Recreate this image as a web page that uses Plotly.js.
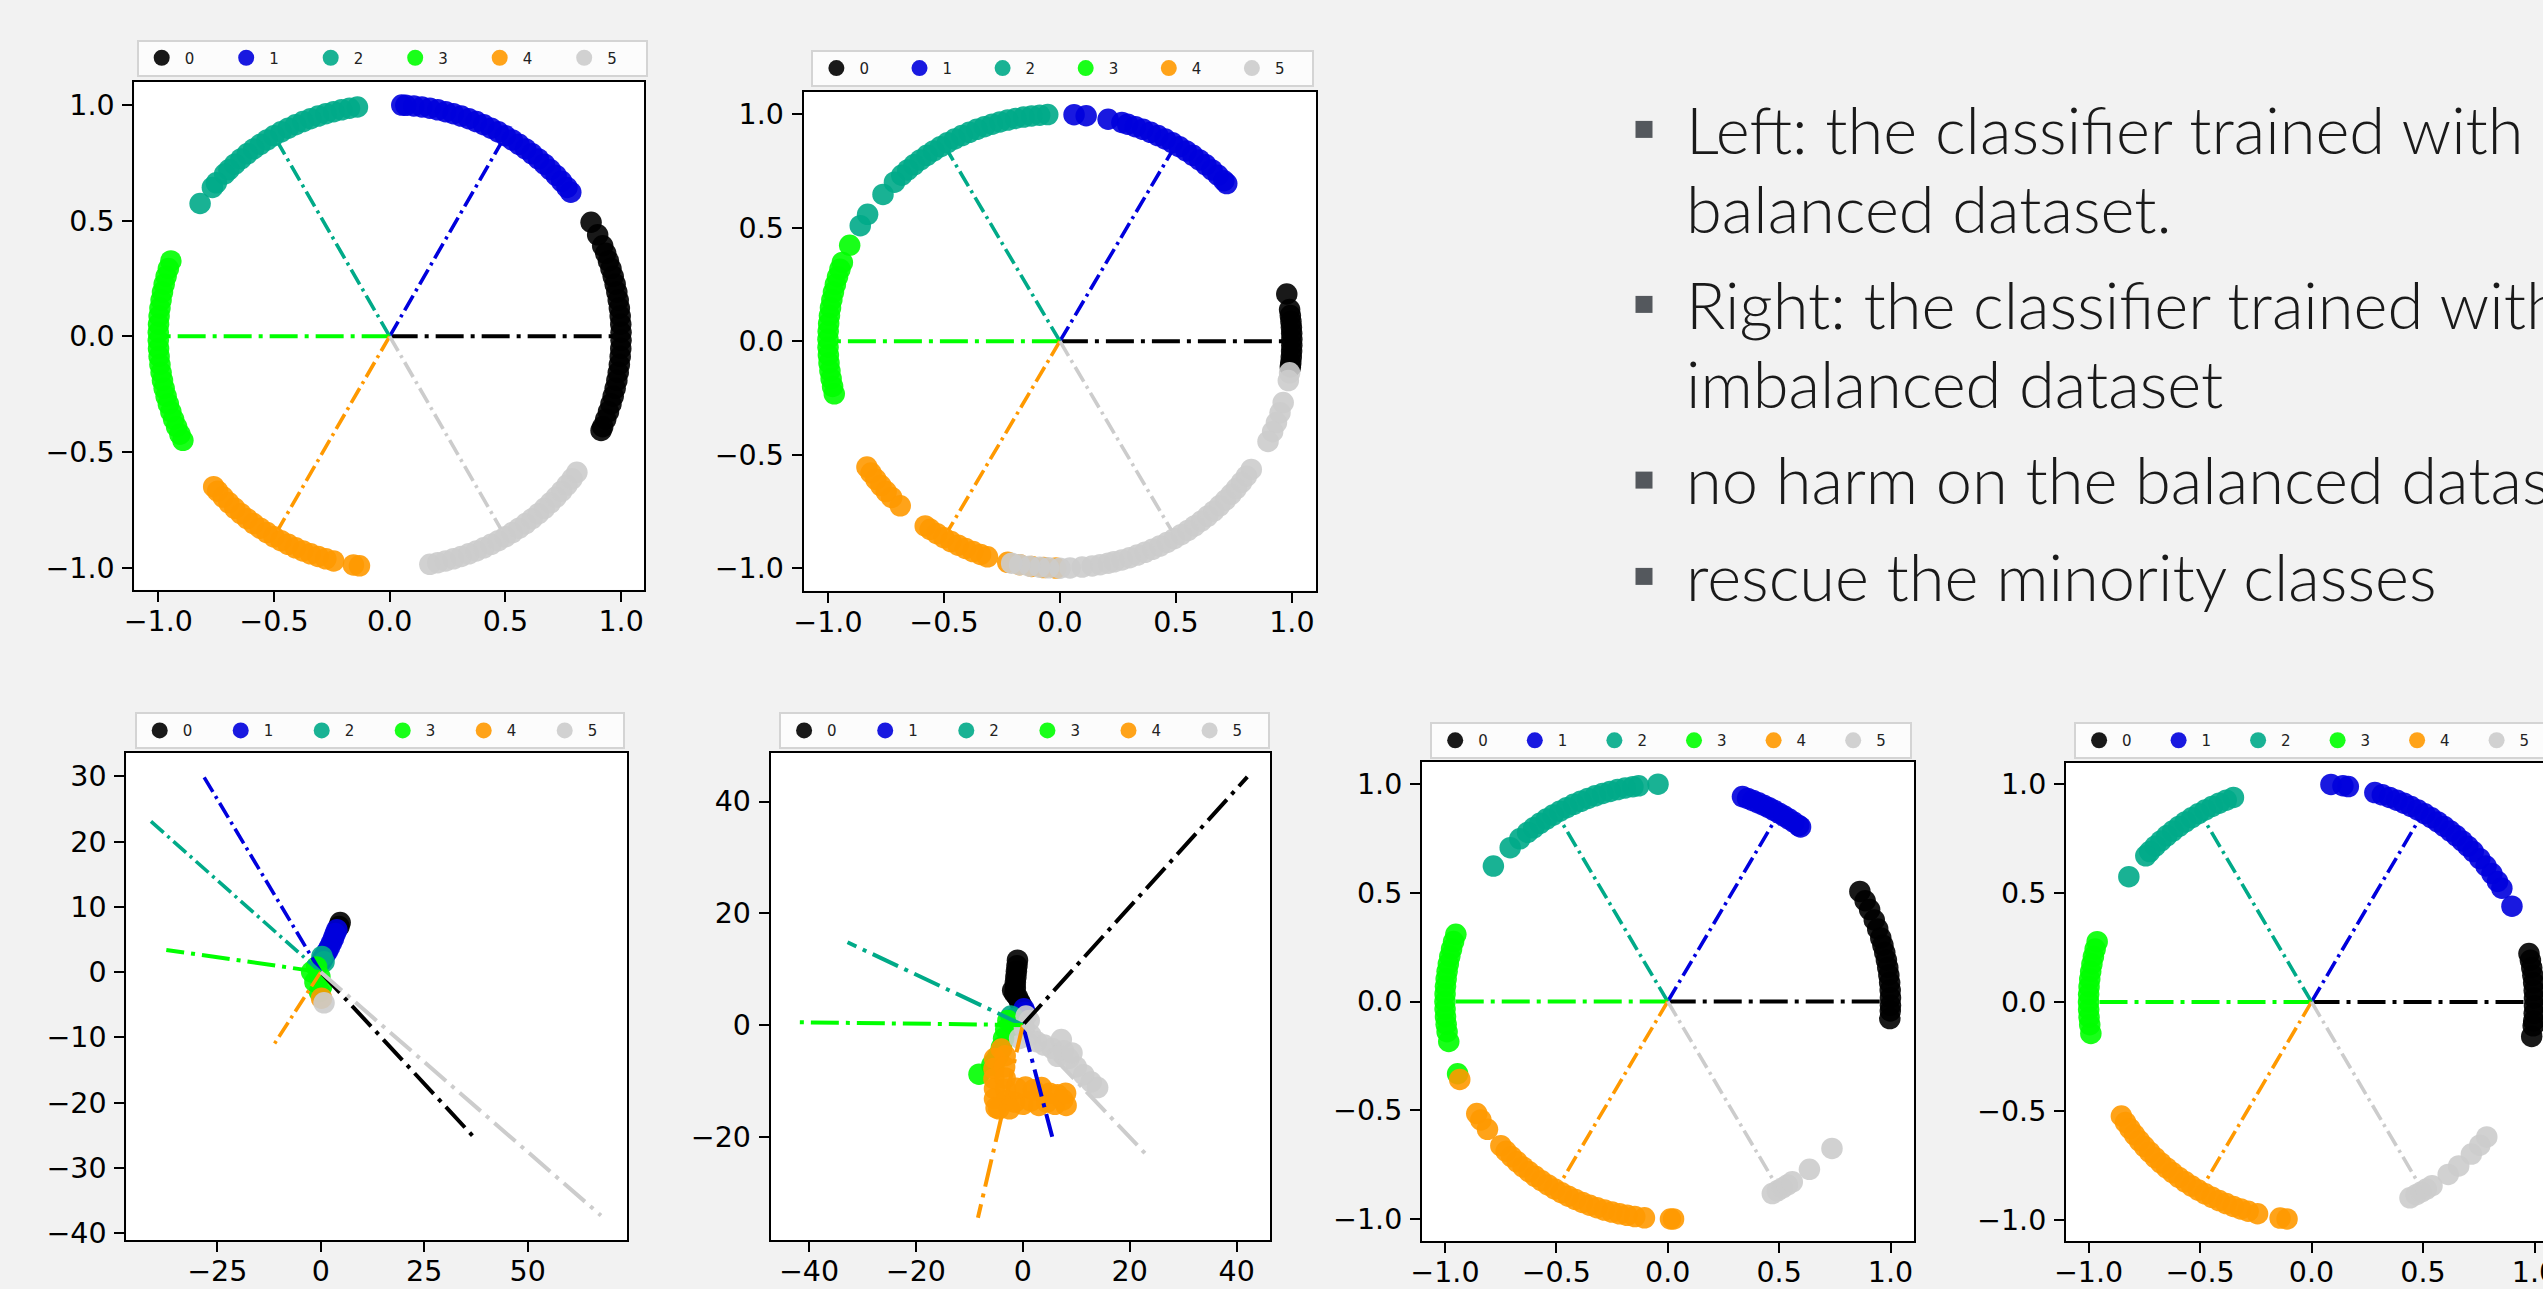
<!DOCTYPE html>
<html>
<head>
<meta charset="utf-8">
<script src="https://cdn.plot.ly/plotly-3.0.1.min.js"></script>
<style>
html,body{margin:0;padding:0;background:#f2f2f2;overflow:hidden;}
#chart{width:2543px;height:1289px;}
</style>
</head>
<body>
<div id="chart"></div>
<script>
// ================= DATA =================
const CLASS_NAMES = ['0', '1', '2', '3', '4', '5'];

// Panel 1 (top-left, balanced): angle (degrees) of each normalised feature on the unit circle
const P1_A0 = [29.5, 26, 23, 21, 19, 17, 15, 13, 11, 9, 7, 5, 3, 1, -1, -3, -5, -7, -9, -11, -13, -15, -17, -19, -21, -23, -24];
const P1_A1 = [87, 86, 84, 82, 80, 78, 76, 74, 72, 70, 68, 66, 64, 62, 60, 58, 56, 54, 52, 50, 48, 46, 44, 42, 40, 38.5];
const P1_A2 = [98, 100, 102, 104, 106, 108, 110, 112, 114, 116, 118, 120, 122, 124, 126, 128, 130, 132, 134, 135.5, 138.5, 140, 145];
const P1_A3 = [161, 163, 165, 167, 169, 171, 173, 175, 177, 179, 181, 183, 185, 187, 189, 191, 193, 195, 197, 199, 201, 203, 205, 206.7];
const P1_A4 = [220.5, 222, 224, 226, 228, 230, 232, 234, 236, 238, 240, 242, 244, 246, 248, 250, 252, 254, 256, 261, 262.5];
const P1_A5 = [280, 282, 284, 286, 288, 290, 292, 294, 296, 298, 300, 302, 304, 306, 308, 310, 312, 314, 316, 318, 320, 322, 324];

// Panel 2 (top-middle, imbalanced)
const P2_A0 = [12, 8, 6.5, 5, 3.5, 2, 0.5, -1, -2.5, -4, -5.5, -6.5];
const P2_A1 = [86.5, 83.5, 78, 74.5, 73, 71, 69, 67, 65, 63, 61, 59, 57, 55, 53, 51, 49, 47, 45, 44];
const P2_A2 = [93, 95, 97, 99, 101, 103, 105, 107, 109, 111, 113, 115, 117, 119, 121, 123, 125, 127, 129, 131, 133, 135.5, 139.7, 146, 149.4];
const P2_A3 = [155, 159.7, 161.5, 163.5, 165.5, 167.5, 169.5, 171.5, 173.5, 175.5, 177.5, 179.5, 181.5, 183.5, 185.5, 187.5, 189.5, 191.5, 193.4];
const P2_A4 = [213.7, 215.5, 217.5, 219.5, 221.5, 223.5, 226.5, 234.5, 236, 238, 240, 242, 244, 246, 248, 250, 251.8, 257, 260, 263, 266, 269];
const P2_A5 = [-8, -10, -15.7, -18.4, -21, -23.5, -26.2, -34.4, -36.5, -38.5, -40.5, -42.5, -44.5, -46.5, -48.5, -50.5, -52.5, -54.5, -56.5, -58.5, -60.5, -62.5, -64.5, -66.5, -68.5, -70.5, -72.5, -74.5, -76.5, -78, -80, -82, -84.5, -87.5, -90, -92.8, -95, -97.5, -100, -102];

// Panel 3 (bottom-left, unnormalised features)
const P3_X0 = [4.7, 4.4];
const P3_Y0 = [7.6, 7.0];
const P3_X1 = [3.9, 3.5, 3.1, 2.6, 2.1, 1.6, 1.1, 0.6, 0.3];
const P3_Y1 = [6.5, 5.9, 5.2, 4.5, 3.8, 3.2, 2.7, 2.2, 1.8];
const P3_X2 = [0.3, 0.8];
const P3_Y2 = [2.4, 1.6];
const P3_X3 = [-1.0, -2.2, -0.2, -1.4, 0.2, -0.3];
const P3_Y3 = [0.8, 0.05, -0.7, -1.5, -2.2, -3.0];
const P3_X4 = [0.2];
const P3_Y4 = [-4.0];
const P3_X5 = [0.8];
const P3_Y5 = [-4.7];

// Panel 4 (bottom, second)
const P4_X0 = [-1.0, -1.1, -1.2, -1.3, -1.4, -1.4, -1.5, -1.9, -1.0, -0.6, -0.3];
const P4_Y0 = [11.6, 10.6, 9.6, 8.6, 7.6, 6.6, 5.6, 6.2, 5.0, 4.2, 3.6];
const P4_X1 = [0.2, 0.4];
const P4_Y1 = [2.9, 2.3];
const P4_X2 = [-2.2, -1.6];
const P4_Y2 = [1.6, 1.2];
const P4_X3 = [-1.8, -2.8, -3.2, -3.6, -4.0, -4.6, -5.2, -5.8, -8.2];
const P4_Y3 = [0.0, 0.8, -0.8, -2.4, -4.0, -5.5, -6.5, -7.2, -8.8];
const P4_X4 = [-4.0, -5.3, -5.4, -5.4, -5.3, -5.3, -5.0, -3.3, -3.4, -3.3, -3.2, -3.0, -1.5, 0.0, 1.5, 3.0, 4.5, 6.0, 7.5, 8.1, -1.2, 0.5, 2.0, 3.5, 5.0, 6.5, 8.0, -4.5, -2.5];
const P4_Y4 = [-4.3, -6.0, -7.8, -9.6, -11.4, -13.2, -14.8, -5.5, -7.5, -9.5, -11.5, -13.5, -13.8, -14.2, -13.6, -14.4, -13.8, -14.2, -13.4, -14.4, -11.3, -11.1, -11.6, -11.2, -12.2, -12.5, -12.2, -15.0, -15.0];
const P4_X5 = [0.6, 0.3, -0.6, 1.5, 2.6, 4.0, 5.5, 7.2, 7.6, 8.6, 10.0, 11.4, 12.8, 14.0, 6.5, 9.2, 1.2];
const P4_Y5 = [1.6, -0.5, -2.4, -1.8, -3.0, -3.6, -4.2, -2.6, -4.6, -6.0, -7.5, -8.9, -10.2, -11.2, -5.6, -5.0, 0.8];

// Panel 5 (bottom, third)
const P5_A0 = [30.4, 27.6, 25, 22, 19.5, 17, 15, 13, 11, 9, 7, 5, 3, 1, -1, -2.5, -4.5];
const P5_A1 = [70.4, 69, 67.5, 66, 64.5, 63, 61.5, 60, 58.5, 57, 55.5, 54, 53.4];
const P5_A2 = [92.5, 97.5, 99, 101, 103, 105, 107, 109, 111, 113, 115, 117, 119, 121, 123, 125, 127, 129, 131.6, 135, 141.5];
const P5_A3 = [162, 164, 166, 168, 170, 172, 174, 176, 178, 180, 182, 184, 186, 188, 190.6, 199.4];
const P5_A4 = [201, 211, 213, 216, 221.5, 223.5, 225.5, 227.5, 229.5, 231.5, 233.5, 235.5, 237.5, 239.5, 241.5, 243.5, 245.5, 247.5, 249.5, 251.5, 253.5, 255.5, 257.5, 259.5, 261.5, 264, 270.7, 271.5];
const P5_A5 = [-62, -60.5, -59, -57.5, -56, -50.5, -42.5];

// Panel 6 (bottom-right)
const P6_A0 = [12.8, 11, 9, 7, 5, 3, 1, -1, -3, -5, -6.3, -9.1];
const P6_A1 = [85, 81.9, 80.5, 73.5, 71.5, 69.5, 67.5, 65.5, 63.5, 61.5, 59.5, 57.5, 55.5, 53.5, 51.5, 49.5, 47.5, 45.5, 43.5, 41, 38.5, 36, 33.5, 31.4, 26];
const P6_A2 = [110.5, 112.5, 114.5, 116.5, 118.5, 120.5, 122.5, 124.5, 126.5, 128.5, 130.5, 132.5, 134.5, 136.5, 138, 145];
const P6_A3 = [164, 166, 168, 170, 172, 174, 176, 178, 180, 182, 184, 186, 188.3];
const P6_A4 = [211.5, 213.5, 215.5, 217.5, 219.5, 221.5, 223.5, 225.5, 227.5, 229.5, 231.5, 233.5, 235.5, 237.5, 239.5, 241.5, 243.5, 245.5, 247.5, 249.5, 251.5, 253.5, 256, 261.9, 263.7];
const P6_A5 = [-63.8, -62, -60.5, -59, -57.3, -52.2, -48.7, -44.2, -41, -38.2];

// Class weight vectors (end points of dash-dot lines from the origin)
const CIRC_WX = [0.965, 0.482, -0.482, -0.965, -0.482, 0.482];
const CIRC_WY = [0, 0.835, 0.835, 0, -0.835, -0.835];
const P3_WX = [37.6, -28.2, -41.2, -37.3, -11.4, 67.7];
const P3_WY = [-25.7, 29.9, 23.2, 3.4, -11.2, -37.3];
const P4_WX = [42.0, 5.5, -32.8, -42.8, -8.4, 23.5];
const P4_WY = [44.4, -20.0, 14.8, 0.5, -34.5, -23.6];

// Tick labels
const CIRC_TICKS = [-1, -0.5, 0, 0.5, 1];
const CIRC_TICKTEXT = ['\u22121.0', '\u22120.5', '0.0', '0.5', '1.0'];
const P3_XTICKS = [-25, 0, 25, 50];
const P3_XTICKTEXT = ['\u221225', '0', '25', '50'];
const P3_YTICKS = [30, 20, 10, 0, -10, -20, -30, -40];
const P3_YTICKTEXT = ['30', '20', '10', '0', '\u221210', '\u221220', '\u221230', '\u221240'];
const P4_XTICKS = [-40, -20, 0, 20, 40];
const P4_XTICKTEXT = ['\u221240', '\u221220', '0', '20', '40'];
const P4_YTICKS = [40, 20, 0, -20];
const P4_YTICKTEXT = ['40', '20', '0', '\u221220'];

// Slide bullet text
const BULLET_LINES = ['Left: the classifier trained with', 'balanced dataset.', 'Right: the classifier trained with', 'imbalanced dataset', 'no harm on the balanced dataset', 'rescue the minority classes'];
const BULLET_MARKED = [true, false, true, false, true, true];

// ================= STYLE / LAYOUT =================
const W = 2543, H = 1289;
const COLORS = ['#000000', '#0000dd', '#00aa88', '#00ff00', '#ff9900', '#cccccc'];
const LONG = '28px,7px,4px,7px', SHORT = '17px,5px,3px,5px';

function polar(deg) {
  return {
    x: deg.map(a => Math.cos(a * Math.PI / 180)),
    y: deg.map(a => Math.sin(a * Math.PI / 180))
  };
}
function circlePanel(arrs) { return arrs.map(polar); }
function xyPanel(xs, ys) { return xs.map((x, i) => ({x: x, y: ys[i]})); }

const PANEL_POINTS = [
  circlePanel([P1_A0, P1_A1, P1_A2, P1_A3, P1_A4, P1_A5]),
  circlePanel([P2_A0, P2_A1, P2_A2, P2_A3, P2_A4, P2_A5]),
  xyPanel([P3_X0, P3_X1, P3_X2, P3_X3, P3_X4, P3_X5], [P3_Y0, P3_Y1, P3_Y2, P3_Y3, P3_Y4, P3_Y5]),
  xyPanel([P4_X0, P4_X1, P4_X2, P4_X3, P4_X4, P4_X5], [P4_Y0, P4_Y1, P4_Y2, P4_Y3, P4_Y4, P4_Y5]),
  circlePanel([P5_A0, P5_A1, P5_A2, P5_A3, P5_A4, P5_A5]),
  circlePanel([P6_A0, P6_A1, P6_A2, P6_A3, P6_A4, P6_A5])
];
const PANEL_W = [
  [CIRC_WX, CIRC_WY], [CIRC_WX, CIRC_WY], [P3_WX, P3_WY], [P4_WX, P4_WY], [CIRC_WX, CIRC_WY], [CIRC_WX, CIRC_WY]
];
const PANEL_DASH = [
  [LONG, SHORT, SHORT, LONG, SHORT, SHORT],
  [LONG, SHORT, SHORT, LONG, SHORT, SHORT],
  [LONG, SHORT, SHORT, LONG, SHORT, LONG],
  [LONG, LONG, LONG, LONG, LONG, LONG],
  [LONG, SHORT, SHORT, LONG, SHORT, SHORT],
  [LONG, SHORT, SHORT, LONG, SHORT, SHORT]
];
// plot-area boxes in px: [left, top, right, bottom]
const PANEL_BOX = [
  [134.4, 81.6, 644, 589.8],
  [803.6, 91.8, 1316.2, 590.6],
  [126.3, 753, 627.2, 1240.1],
  [770.7, 753, 1270.3, 1240.1],
  [1422, 761.8, 1913.9, 1241.2],
  [2066, 762.6, 2543, 1241.2]
];
const PANEL_XR = [[-1.103, 1.099], [-1.105, 1.105], [-46.96, 74.03], [-47.17, 46.3], [-1.103, 1.105], [-1.101, 1.038]];
const PANEL_YR = [[-1.095, 1.1], [-1.099, 1.099], [-41.06, 33.57], [-38.5, 48.68], [-1.102, 1.102], [-1.096, 1.096]];
const PANEL_XT = [[CIRC_TICKS, CIRC_TICKTEXT], [CIRC_TICKS, CIRC_TICKTEXT], [P3_XTICKS, P3_XTICKTEXT], [P4_XTICKS, P4_XTICKTEXT], [CIRC_TICKS, CIRC_TICKTEXT], [CIRC_TICKS, CIRC_TICKTEXT]];
const PANEL_YT = [[CIRC_TICKS, CIRC_TICKTEXT], [CIRC_TICKS, CIRC_TICKTEXT], [P3_YTICKS, P3_YTICKTEXT], [P4_YTICKS, P4_YTICKTEXT], [CIRC_TICKS, CIRC_TICKTEXT], [CIRC_TICKS, CIRC_TICKTEXT]];
// legend boxes: [left, top, item spacing]
const LEGEND_POS = [[136.7, 39.5, 87], [811.4, 49.8, 85.6], [134.7, 712.2, 83.5], [779.1, 712.2, 83.6], [1430.2, 722.1, 82.1], [2074.1, 722.0, 82]];

const traces = [];
const layout = {
  width: W, height: H,
  margin: {l: 0, r: 0, t: 0, b: 0, pad: 0, autoexpand: false},
  paper_bgcolor: '#f2f2f2',
  plot_bgcolor: '#ffffff',
  showlegend: true,
  shapes: [],
  annotations: []
};

const ITEMW = 36;
const ITEM_EXTRA = 7.5;
PANEL_POINTS.forEach((pts, p) => {
  const sfx = p === 0 ? '' : String(p + 1);
  const xa = 'x' + sfx, ya = 'y' + sfx;
  const leg = 'legend' + sfx;
  pts.forEach((d, c) => {
    traces.push({
      type: 'scatter', mode: 'markers', x: d.x, y: d.y,
      xaxis: xa, yaxis: ya, name: CLASS_NAMES[c], legend: leg,
      marker: {color: COLORS[c], size: 21.5, opacity: 0.9, line: {width: 0}},
      hoverinfo: 'skip', cliponaxis: true
    });
  });
  const wx = PANEL_W[p][0], wy = PANEL_W[p][1];
  for (let c = 0; c < 6; c++) {
    const dash = PANEL_DASH[p][c];
    traces.push({
      type: 'scatter', mode: 'lines', x: [0, wx[c]], y: [0, wy[c]],
      xaxis: xa, yaxis: ya, showlegend: false, hoverinfo: 'skip',
      line: {color: COLORS[c], width: dash === LONG ? 4 : 3.6, dash: dash}
    });
  }
  const b = PANEL_BOX[p];
  const axBase = {
    showgrid: false, zeroline: false, showline: true, linecolor: '#000000', linewidth: 2,
    ticks: 'outside', ticklen: 10, tickwidth: 2, tickcolor: '#000000',
    tickfont: {family: 'DejaVu Sans', size: 28.5, color: '#000000'},
    tickmode: 'array', fixedrange: true, ticklabeloverflow: 'allow', automargin: false
  };
  layout['xaxis' + sfx] = Object.assign({}, axBase, {
    domain: [b[0] / W, Math.min(1, b[2] / W)], range: PANEL_XR[p], anchor: ya,
    tickvals: PANEL_XT[p][0], ticktext: PANEL_XT[p][1], mirror: true, ticklabelstandoff: -5
  });
  layout['yaxis' + sfx] = Object.assign({}, axBase, {
    domain: [1 - b[3] / H, 1 - b[1] / H], range: PANEL_YR[p], anchor: xa,
    tickvals: PANEL_YT[p][0], ticktext: PANEL_YT[p][1], mirror: p !== 5, ticklabelstandoff: 2
  });
  const lp = LEGEND_POS[p];
  layout[leg] = {
    orientation: 'h', x: lp[0] / W, y: 1 - lp[1] / H, xanchor: 'left', yanchor: 'top',
    bgcolor: '#fcfcfc', bordercolor: '#d4d4d4', borderwidth: 2,
    font: {family: 'DejaVu Sans', size: 15, color: '#222222'},
    itemwidth: ITEMW, entrywidth: lp[2] - ITEMW - 10 - ITEM_EXTRA, entrywidthmode: 'pixels',
    itemsizing: 'trace', itemclick: false, itemdoubleclick: false
  };
});

// bullets + text
const LINE_CENTERS = [128.8, 207.6, 303.8, 383.4, 479.5, 575.8];
BULLET_LINES.forEach((t, i) => {
  layout.annotations.push({
    xref: 'paper', yref: 'paper', x: 1684.4 / W, y: 1 - LINE_CENTERS[i] / H,
    xanchor: 'left', yanchor: 'middle', showarrow: false, text: t, align: 'left',
    font: {family: 'Lato', size: 65, color: '#1a1a1a', weight: 300}
  });
  if (BULLET_MARKED[i]) {
    const cy = LINE_CENTERS[i] + 0.6;
    layout.shapes.push({
      type: 'rect', xref: 'paper', yref: 'paper', layer: 'above',
      x0: (1644 - 8.5) / W, x1: (1644 + 8.5) / W, y0: 1 - (cy + 8.5) / H, y1: 1 - (cy - 8.5) / H,
      fillcolor: '#54585d', line: {width: 0}
    });
  }
});

Plotly.newPlot('chart', traces, layout, {displayModeBar: false, responsive: false});
</script>
</body>
</html>
